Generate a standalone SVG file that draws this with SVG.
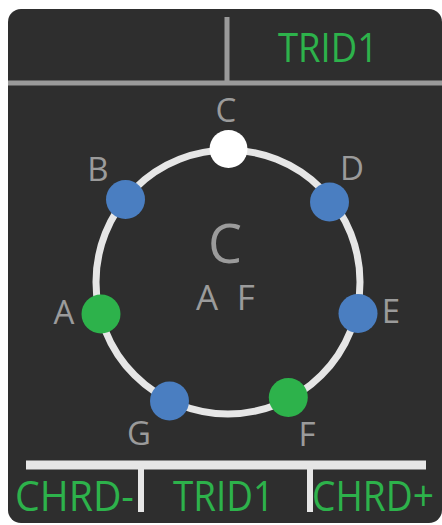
<svg xmlns="http://www.w3.org/2000/svg" width="442" height="525" viewBox="0 0 442 525">
  <style>
    .lbl { font-family: "Open Sans", "Noto Sans", sans-serif; fill: #9b9b9b; text-anchor: middle; }
    .note { font-size: 33px; }
    .green { font-family: "Open Sans", "Noto Sans", sans-serif; fill: #2db24b; }
    .blue { fill: #4a7ec1; }
    .grn { fill: #2db24b; }
    .wht { fill: #ffffff; }
  </style>
  <rect x="8" y="9" width="434" height="514" rx="13" fill="#2e2e2e"/>
  <g id="dividers" stroke-linecap="butt" fill="none">
    <line x1="8" y1="83" x2="442" y2="83" stroke="#9a9a9a" stroke-width="5"/>
    <line x1="227" y1="17" x2="227" y2="83" stroke="#9a9a9a" stroke-width="5"/>
    <line x1="26" y1="465" x2="426" y2="465" stroke="#e6e6e6" stroke-width="9"/>
    <line x1="141" y1="465" x2="141" y2="512" stroke="#e6e6e6" stroke-width="6"/>
    <line x1="310" y1="465" x2="310" y2="512" stroke="#e6e6e6" stroke-width="6"/>
  </g>
  <g id="ring">
    <circle cx="228" cy="282" r="132" fill="none" stroke="#e6e6e6" stroke-width="7"/>
  </g>
  <g id="title-top"><text class="green" x="278" y="62" font-size="41" textLength="100" lengthAdjust="spacingAndGlyphs">TRID1</text></g>
  <g id="center-label">
    <text class="lbl" x="225" y="263" font-size="54">C</text>
    <text class="lbl" x="196" y="310" font-size="35" style="text-anchor:start" word-spacing="9.5">A F</text>
  </g>
  <g id="node-C"><circle class="wht" cx="228.5" cy="149" r="19"/><text class="lbl note" x="226" y="122">C</text></g>
  <g id="node-B"><circle class="blue" cx="125.5" cy="199.5" r="19.5"/><text class="lbl note" x="98" y="181">B</text></g>
  <g id="node-D"><circle class="blue" cx="329.5" cy="202" r="19.5"/><text class="lbl note" x="352" y="180">D</text></g>
  <g id="node-A"><circle class="grn" cx="101" cy="314" r="19.5"/><text class="lbl note" x="64" y="324">A</text></g>
  <g id="node-E"><circle class="blue" cx="358" cy="313.5" r="19.5"/><text class="lbl note" x="391" y="323">E</text></g>
  <g id="node-G"><circle class="blue" cx="169.5" cy="401" r="19.5"/><text class="lbl note" x="139" y="445">G</text></g>
  <g id="node-F"><circle class="grn" cx="288.3" cy="397.5" r="19.5"/><text class="lbl note" x="307" y="446">F</text></g>
  <g id="buttons">
    <text class="green" x="15" y="511" font-size="42" textLength="119" lengthAdjust="spacingAndGlyphs">CHRD-</text>
    <text class="green" x="173" y="511" font-size="42" textLength="101" lengthAdjust="spacingAndGlyphs">TRID1</text>
    <text class="green" x="312" y="511" font-size="42" textLength="122" lengthAdjust="spacingAndGlyphs">CHRD+</text>
  </g>
</svg>
